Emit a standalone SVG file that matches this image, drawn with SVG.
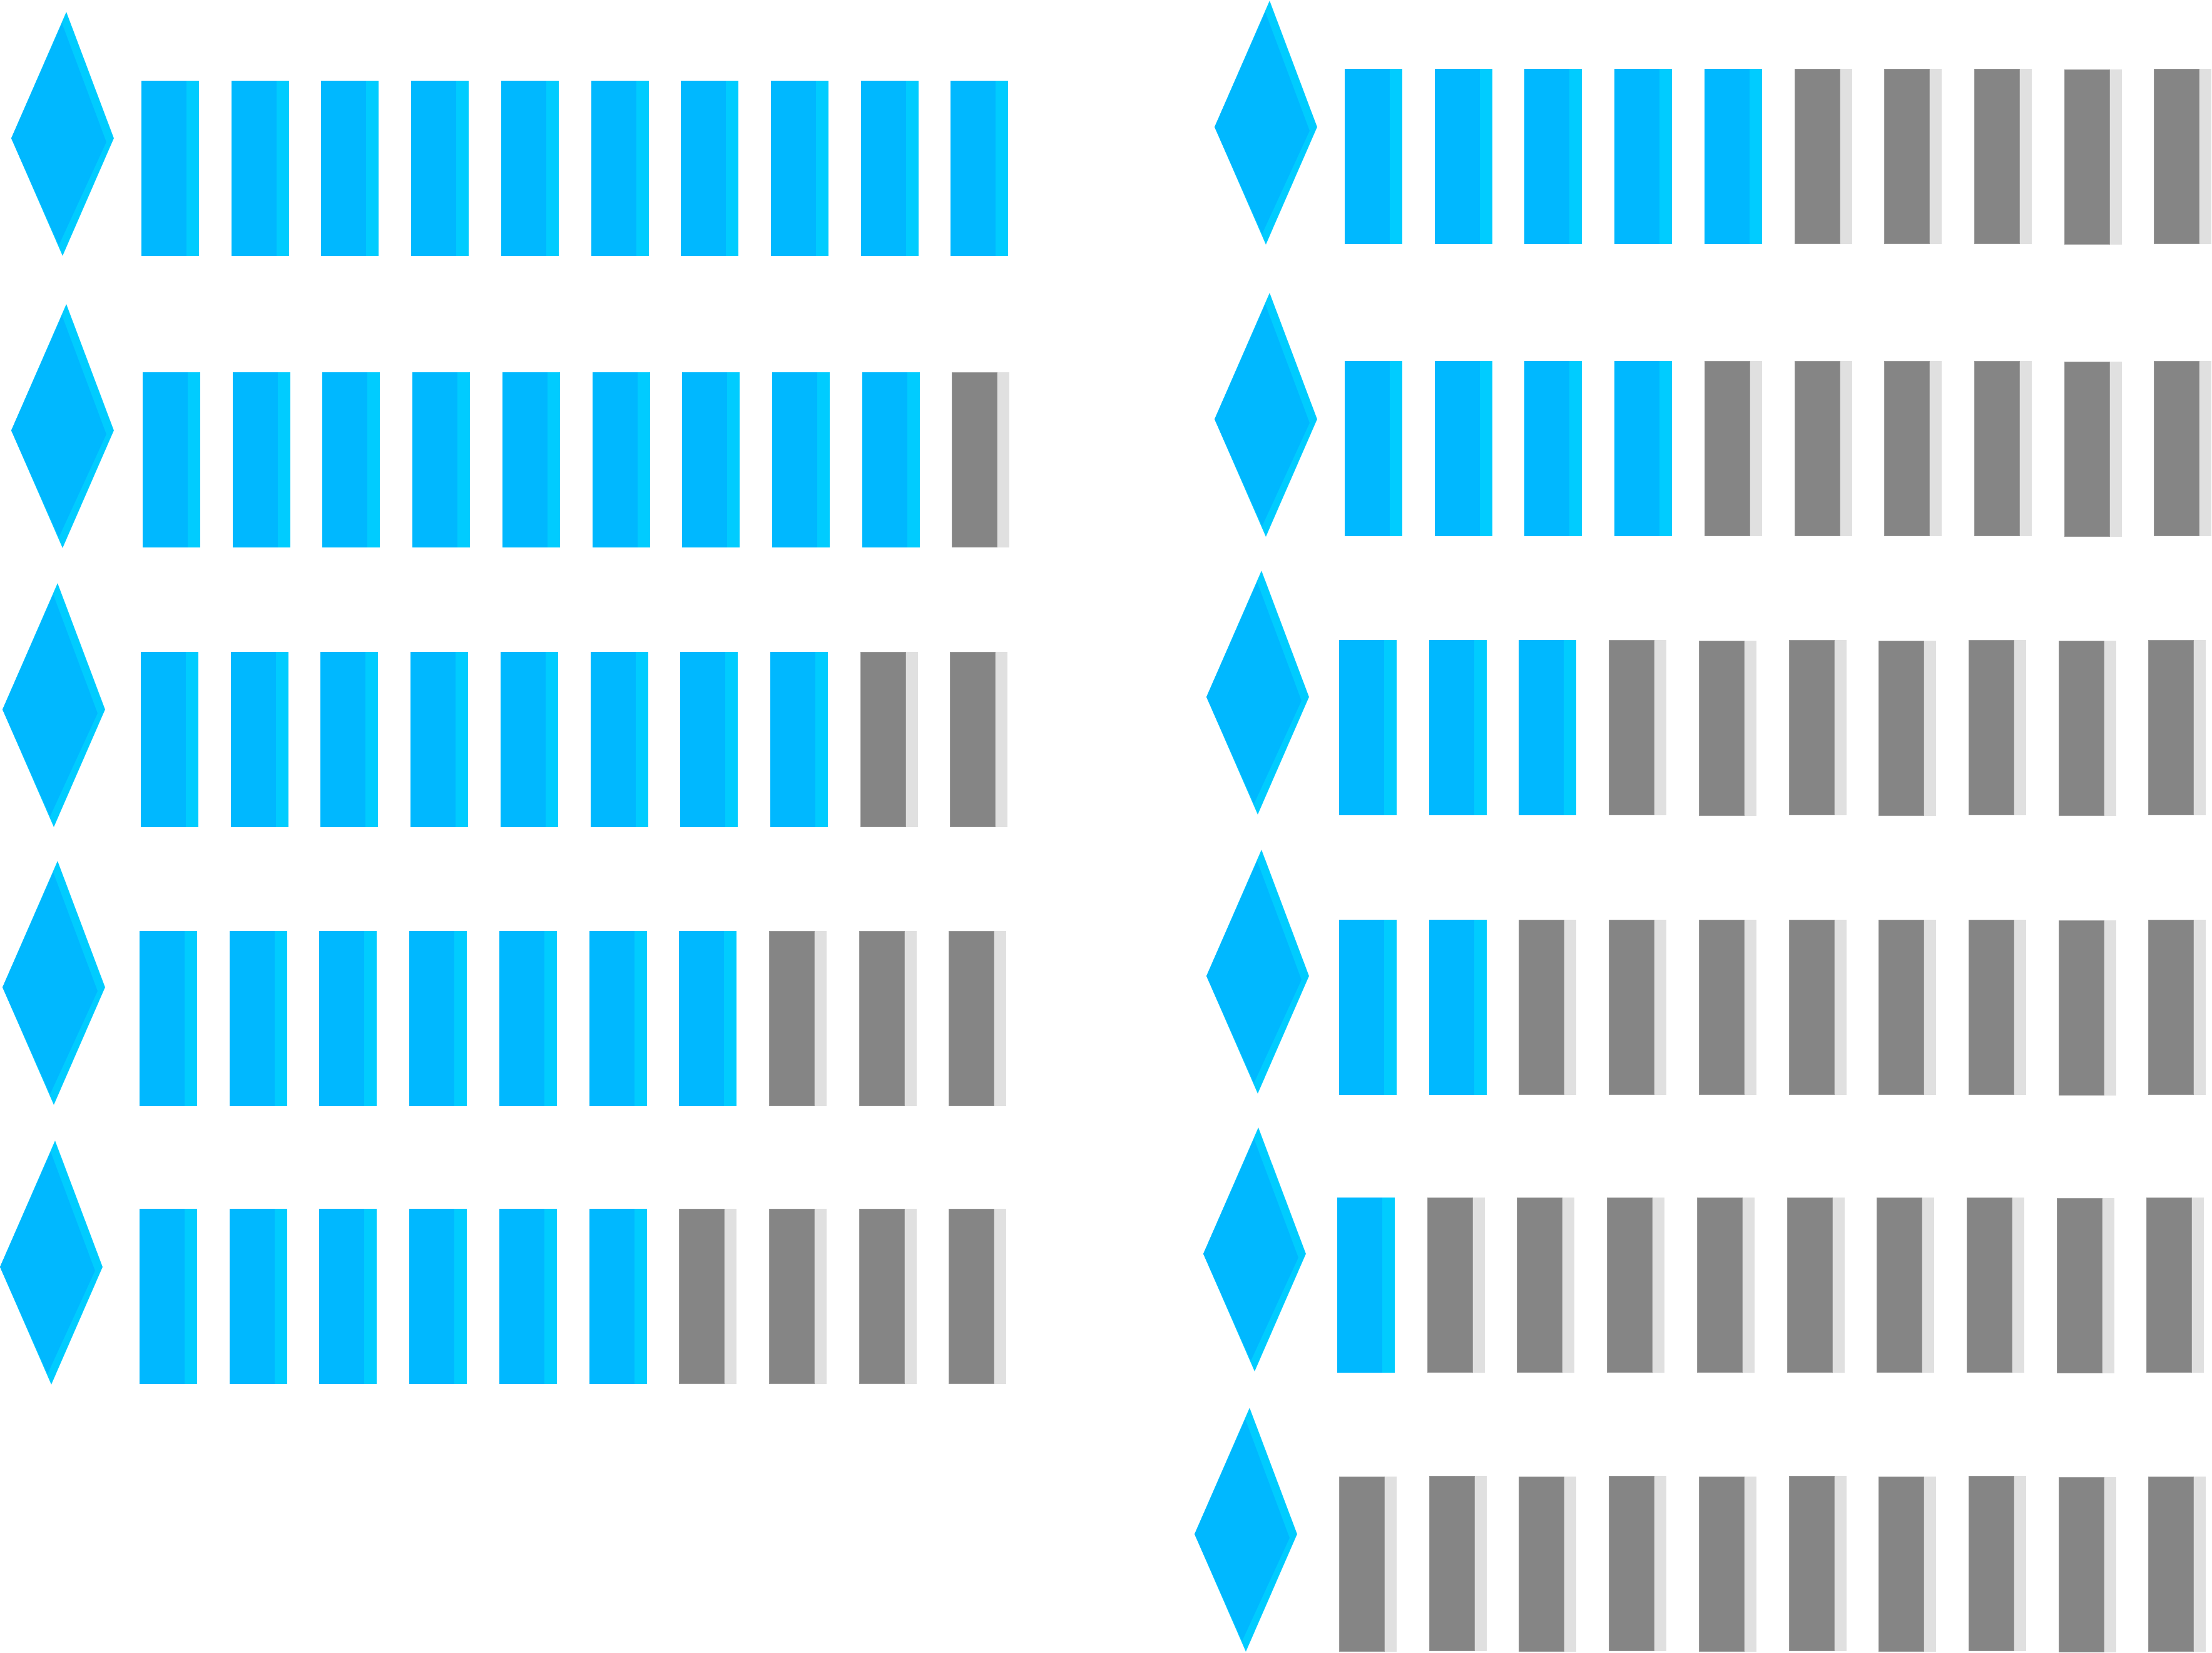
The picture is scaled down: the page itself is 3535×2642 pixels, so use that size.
<svg xmlns="http://www.w3.org/2000/svg" width="3535" height="2642" viewBox="0 0 3535 2642">
<style>
.bm{fill:#00B8FF}
.bs{fill:#00CCFF}
.gm{fill:#858585;stroke:#9a9a9a;stroke-width:1}
.gs{fill:#E0E0E0}
.dout{fill:#00CCFF}
.din{fill:#00B8FF}
</style>
<defs>
<g id="blue"><rect class="bm" x="0" y="0" width="73" height="280"/><rect class="bs" x="72" y="0" width="20" height="280"/></g>
<g id="gray"><rect class="gm" x="0.5" y="0.5" width="72" height="279"/><rect class="gs" x="73" y="0" width="19" height="280"/></g>
<g id="dia"><polygon class="dout" points="0,0 88,-202 164,0 82,188"/><polygon class="din" points="0,0 81,-184 152,6 76,171"/></g>
</defs>
<rect width="3535" height="2642" fill="#fff"/>
<g id="connectors"/>
<!-- Left column -->
<g id="L1">
<g id="L1d"><use href="#dia" x="18" y="221"/></g>
<g id="L1b1"><use href="#blue" x="226" y="129"/></g>
<g id="L1b2"><use href="#blue" x="370" y="129"/></g>
<g id="L1b3"><use href="#blue" x="513" y="129"/></g>
<g id="L1b4"><use href="#blue" x="657" y="129"/></g>
<g id="L1b5"><use href="#blue" x="801" y="129"/></g>
<g id="L1b6"><use href="#blue" x="945" y="129"/></g>
<g id="L1b7"><use href="#blue" x="1088" y="129"/></g>
<g id="L1b8"><use href="#blue" x="1232" y="129"/></g>
<g id="L1b9"><use href="#blue" x="1376" y="129"/></g>
<g id="L1b10"><use href="#blue" x="1519" y="129"/></g>
</g>
<g id="L2">
<g id="L2d"><use href="#dia" x="18" y="688"/></g>
<g id="L2b1"><use href="#blue" x="228" y="595"/></g>
<g id="L2b2"><use href="#blue" x="372" y="595"/></g>
<g id="L2b3"><use href="#blue" x="515" y="595"/></g>
<g id="L2b4"><use href="#blue" x="659" y="595"/></g>
<g id="L2b5"><use href="#blue" x="803" y="595"/></g>
<g id="L2b6"><use href="#blue" x="947" y="595"/></g>
<g id="L2b7"><use href="#blue" x="1090" y="595"/></g>
<g id="L2b8"><use href="#blue" x="1234" y="595"/></g>
<g id="L2b9"><use href="#blue" x="1378" y="595"/></g>
<g id="L2b10"><use href="#gray" x="1521" y="595"/></g>
</g>
<g id="L3">
<g id="L3d"><use href="#dia" x="4" y="1134"/></g>
<g id="L3b1"><use href="#blue" x="225" y="1042"/></g>
<g id="L3b2"><use href="#blue" x="369" y="1042"/></g>
<g id="L3b3"><use href="#blue" x="512" y="1042"/></g>
<g id="L3b4"><use href="#blue" x="656" y="1042"/></g>
<g id="L3b5"><use href="#blue" x="800" y="1042"/></g>
<g id="L3b6"><use href="#blue" x="944" y="1042"/></g>
<g id="L3b7"><use href="#blue" x="1087" y="1042"/></g>
<g id="L3b8"><use href="#blue" x="1231" y="1042"/></g>
<g id="L3b9"><use href="#gray" x="1375" y="1042"/></g>
<g id="L3b10"><use href="#gray" x="1518" y="1042"/></g>
</g>
<g id="L4">
<g id="L4d"><use href="#dia" x="4" y="1578"/></g>
<g id="L4b1"><use href="#blue" x="223" y="1488"/></g>
<g id="L4b2"><use href="#blue" x="367" y="1488"/></g>
<g id="L4b3"><use href="#blue" x="510" y="1488"/></g>
<g id="L4b4"><use href="#blue" x="654" y="1488"/></g>
<g id="L4b5"><use href="#blue" x="798" y="1488"/></g>
<g id="L4b6"><use href="#blue" x="942" y="1488"/></g>
<g id="L4b7"><use href="#blue" x="1085" y="1488"/></g>
<g id="L4b8"><use href="#gray" x="1229" y="1488"/></g>
<g id="L4b9"><use href="#gray" x="1373" y="1488"/></g>
<g id="L4b10"><use href="#gray" x="1516" y="1488"/></g>
</g>
<g id="L5">
<g id="L5d"><use href="#dia" x="0" y="2025"/></g>
<g id="L5b1"><use href="#blue" x="223" y="1932"/></g>
<g id="L5b2"><use href="#blue" x="367" y="1932"/></g>
<g id="L5b3"><use href="#blue" x="510" y="1932"/></g>
<g id="L5b4"><use href="#blue" x="654" y="1932"/></g>
<g id="L5b5"><use href="#blue" x="798" y="1932"/></g>
<g id="L5b6"><use href="#blue" x="942" y="1932"/></g>
<g id="L5b7"><use href="#gray" x="1085" y="1932"/></g>
<g id="L5b8"><use href="#gray" x="1229" y="1932"/></g>
<g id="L5b9"><use href="#gray" x="1373" y="1932"/></g>
<g id="L5b10"><use href="#gray" x="1516" y="1932"/></g>
</g>
<!-- Right column -->
<g id="R1">
<g id="R1d"><use href="#dia" x="1941" y="203"/></g>
<g id="R1b1"><use href="#blue" x="2149" y="110"/></g>
<g id="R1b2"><use href="#blue" x="2293" y="110"/></g>
<g id="R1b3"><use href="#blue" x="2436" y="110"/></g>
<g id="R1b4"><use href="#blue" x="2580" y="110"/></g>
<g id="R1b5"><use href="#blue" x="2724" y="110"/></g>
<g id="R1b6"><use href="#gray" x="2868" y="110"/></g>
<g id="R1b7"><use href="#gray" x="3011" y="110"/></g>
<g id="R1b8"><use href="#gray" x="3155" y="110"/></g>
<g id="R1b9"><use href="#gray" x="3299" y="111"/></g>
<g id="R1b10"><use href="#gray" x="3442" y="110"/></g>
</g>
<g id="R2">
<g id="R2d"><use href="#dia" x="1941" y="670"/></g>
<g id="R2b1"><use href="#blue" x="2149" y="577"/></g>
<g id="R2b2"><use href="#blue" x="2293" y="577"/></g>
<g id="R2b3"><use href="#blue" x="2436" y="577"/></g>
<g id="R2b4"><use href="#blue" x="2580" y="577"/></g>
<g id="R2b5"><use href="#gray" x="2724" y="577"/></g>
<g id="R2b6"><use href="#gray" x="2868" y="577"/></g>
<g id="R2b7"><use href="#gray" x="3011" y="577"/></g>
<g id="R2b8"><use href="#gray" x="3155" y="577"/></g>
<g id="R2b9"><use href="#gray" x="3299" y="578"/></g>
<g id="R2b10"><use href="#gray" x="3442" y="577"/></g>
</g>
<g id="R3">
<g id="R3d"><use href="#dia" x="1928" y="1114"/></g>
<g id="R3b1"><use href="#blue" x="2140" y="1023"/></g>
<g id="R3b2"><use href="#blue" x="2284" y="1023"/></g>
<g id="R3b3"><use href="#blue" x="2427" y="1023"/></g>
<g id="R3b4"><use href="#gray" x="2571" y="1023"/></g>
<g id="R3b5"><use href="#gray" x="2715" y="1024"/></g>
<g id="R3b6"><use href="#gray" x="2859" y="1023"/></g>
<g id="R3b7"><use href="#gray" x="3002" y="1024"/></g>
<g id="R3b8"><use href="#gray" x="3146" y="1023"/></g>
<g id="R3b9"><use href="#gray" x="3290" y="1024"/></g>
<g id="R3b10"><use href="#gray" x="3433" y="1023"/></g>
</g>
<g id="R4">
<g id="R4d"><use href="#dia" x="1928" y="1560"/></g>
<g id="R4b1"><use href="#blue" x="2140" y="1470"/></g>
<g id="R4b2"><use href="#blue" x="2284" y="1470"/></g>
<g id="R4b3"><use href="#gray" x="2427" y="1470"/></g>
<g id="R4b4"><use href="#gray" x="2571" y="1470"/></g>
<g id="R4b5"><use href="#gray" x="2715" y="1470"/></g>
<g id="R4b6"><use href="#gray" x="2859" y="1470"/></g>
<g id="R4b7"><use href="#gray" x="3002" y="1470"/></g>
<g id="R4b8"><use href="#gray" x="3146" y="1470"/></g>
<g id="R4b9"><use href="#gray" x="3290" y="1471"/></g>
<g id="R4b10"><use href="#gray" x="3433" y="1470"/></g>
</g>
<g id="R5">
<g id="R5d"><use href="#dia" x="1923" y="2004"/></g>
<g id="R5b1"><use href="#blue" x="2137" y="1914"/></g>
<g id="R5b2"><use href="#gray" x="2281" y="1914"/></g>
<g id="R5b3"><use href="#gray" x="2424" y="1914"/></g>
<g id="R5b4"><use href="#gray" x="2568" y="1914"/></g>
<g id="R5b5"><use href="#gray" x="2712" y="1914"/></g>
<g id="R5b6"><use href="#gray" x="2856" y="1914"/></g>
<g id="R5b7"><use href="#gray" x="2999" y="1914"/></g>
<g id="R5b8"><use href="#gray" x="3143" y="1914"/></g>
<g id="R5b9"><use href="#gray" x="3287" y="1915"/></g>
<g id="R5b10"><use href="#gray" x="3430" y="1914"/></g>
</g>
<g id="R6">
<g id="R6d"><use href="#dia" x="1909" y="2452"/></g>
<g id="R6b1"><use href="#gray" x="2140" y="2360"/></g>
<g id="R6b2"><use href="#gray" x="2284" y="2359"/></g>
<g id="R6b3"><use href="#gray" x="2427" y="2360"/></g>
<g id="R6b4"><use href="#gray" x="2571" y="2359"/></g>
<g id="R6b5"><use href="#gray" x="2715" y="2360"/></g>
<g id="R6b6"><use href="#gray" x="2859" y="2359"/></g>
<g id="R6b7"><use href="#gray" x="3002" y="2360"/></g>
<g id="R6b8"><use href="#gray" x="3146" y="2359"/></g>
<g id="R6b9"><use href="#gray" x="3290" y="2361"/></g>
<g id="R6b10"><use href="#gray" x="3433" y="2360"/></g>
</g>
</svg>
